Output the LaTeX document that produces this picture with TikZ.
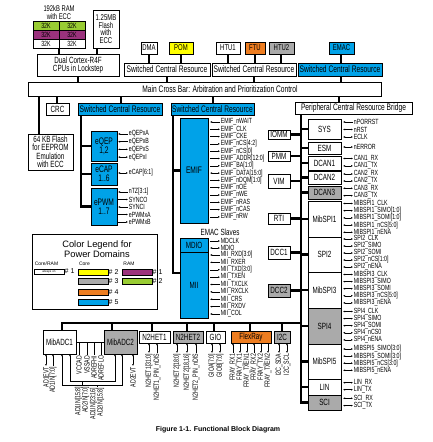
\documentclass[tikz,border=0pt]{standalone}
\usepackage{fontspec}
\setmainfont{Liberation Sans}[FakeStretch=0.7]
\newfontfamily\plainfont{Liberation Sans}
\usetikzlibrary{arrows.meta}
\definecolor{cgreen}{RGB}{153,204,51}
\definecolor{cpurple}{RGB}{155,50,125}
\definecolor{cyellow}{RGB}{255,255,0}
\definecolor{corange}{RGB}{238,125,32}
\definecolor{cgray}{RGB}{170,170,170}
\definecolor{cblue}{RGB}{0,162,232}
\newcommand\mybx[6]{\node[box,#1,anchor=north west,minimum width=#4pt,minimum height=#5pt] (#2) at (#3) {#6};}
\newcommand\sigr[5]{%
  \foreach \sdir/\stxt [count=\i] in {#5}
    \draw[sig,\sdir] ([xshift=#2pt,yshift={-(#3+(\i-1)*#4)*1pt}]#1.north east) -- ++(10,0) node[lab,anchor=west] {\stxt};}
\newcommand\sigb[3]{%
  \foreach \sx/\sdir/\stxt in {#3}
    \draw[sig,\sdir] ([xshift=\sx pt]#1.south west) -- ++(0,#2) node[lab,rotate=90,anchor=east] {\stxt};}
\begin{document}
\begin{tikzpicture}[x=1pt,y=-1pt,
  box/.style={draw,line width=0.8pt,inner sep=0pt,outer sep=0pt,align=center,font=\fontsize{9}{8.5}\selectfont},
  scr/.style={font=\fontsize{9.5}{10}\selectfont},
  bus/.style={line width=2.6pt},
  sig/.style={line width=0.5pt,>={Latex[length=2pt,width=1.8pt]}},
  lab/.style={inner sep=0.6pt,font=\fontsize{7.5}{7.2}\selectfont},
  lnum/.style={inner sep=0.5pt,font=\plainfont\fontsize{7}{7}\selectfont},
  lsm/.style={inner sep=0pt,font=\plainfont\fontsize{5}{5}\selectfont}]
\useasboundingbox (0,0) rectangle (432,442);
\fill[white] (0,0) rectangle (432,442);
\foreach \v in {39,57,59,62,78,81,97,112,121,149,152,167,173,181,187,213,214,228,250,254,255,281,282,301,339,341}
  \coordinate (c\v) at (\v,0);
\coordinate (y273) at (0,273);
\coordinate (y323) at (0,323);

% ---- top: RAM, flash, CPU
\node[font=\fontsize{8.3}{8}\selectfont,align=center] (ramlbl) at (59,12.5) {192kB RAM\\with ECC};
\mybx{fill=cgreen,font=\fontsize{7.5}{8}\selectfont}{r11}{33,21}{26}{9}{32K}
\mybx{fill=cgreen,font=\fontsize{7.5}{8}\selectfont}{r12}{59,21}{26}{9}{32K}
\mybx{fill=cpurple,font=\fontsize{7.5}{8}\selectfont}{r21}{33,30}{26}{9}{32K}
\mybx{fill=cpurple,font=\fontsize{7.5}{8}\selectfont}{r22}{59,30}{26}{9}{32K}
\mybx{fill=white,font=\fontsize{7.5}{8}\selectfont}{r31}{33,39}{26}{9}{32K}
\mybx{fill=white,font=\fontsize{7.5}{8}\selectfont}{r32}{59,39}{26}{9}{32K}
\mybx{font=\fontsize{8.5}{7.7}\selectfont}{flash}{93,10}{26}{38}{1.25MB\\Flash\\with\\ECC}
\mybx{}{cortex}{37,54}{82}{22}{Dual Cortex-R4F\\CPUs in Lockstep}

% ---- masters
\mybx{font=\fontsize{8.5}{8}\selectfont}{dma}{141,42}{16}{12}{DMA}
\mybx{fill=cyellow,font=\fontsize{8.5}{8}\selectfont}{pom}{169,42}{24}{12}{POM}
\mybx{font=\fontsize{8.5}{8}\selectfont}{htu1}{216,42}{24}{12}{HTU1}
\mybx{fill=corange,font=\fontsize{8.5}{8}\selectfont}{ftu}{245,42}{20}{12}{FTU}
\mybx{fill=cgray,font=\fontsize{8.5}{8}\selectfont}{htu2}{269,42}{25}{12}{HTU2}
\mybx{fill=cblue,font=\fontsize{8.5}{8}\selectfont}{emac}{329,42}{25}{12}{EMAC}
\mybx{scr}{scr1}{124,63}{86}{13}{Switched Central Resource}
\mybx{scr}{scr2}{212,63}{84}{13}{Switched Central Resource}
\mybx{scr,fill=cblue}{scr3}{298,63}{84}{13}{Switched Central Resource}
\mybx{}{mainbar}{28,82}{353}{14}{}
\node[font=\fontsize{9.5}{10}\selectfont] (mainlbl) at (220,89) {Main Cross Bar: Arbitration and Prioritization Control};

% ---- second level
\mybx{}{crc}{46,103}{23}{12}{CRC}
\mybx{}{flash64}{28,134}{45}{36}{64 KB Flash\\for EEPROM\\Emulation\\with ECC}
\mybx{scr,fill=cblue}{scrL}{78,103}{84}{12}{Switched Central Resource}
\mybx{scr,fill=cblue}{scrM}{171,103}{83}{12}{Switched Central Resource}
\mybx{scr}{pcrb}{295,102}{117}{12}{Peripheral Central Resource Bridge}

\mybx{fill=cblue,font=\fontsize{9.5}{9}\selectfont}{eqep}{91,131}{26}{30}{eQEP\\1,2}
\mybx{fill=cblue,font=\fontsize{9.5}{9}\selectfont}{ecap}{91,163}{26}{22}{eCAP\\1..6}
\mybx{fill=cblue,font=\fontsize{9.5}{9}\selectfont}{epwm}{91,188}{26}{37}{ePWM\\1..7}

\mybx{fill=cblue,font=\fontsize{9.5}{9}\selectfont}{emif}{180,118}{28}{105}{EMIF}
\node[font=\fontsize{9}{9}\selectfont] (emacsl) at (220,232) {EMAC Slaves};
\mybx{fill=cblue}{mdio}{180,238}{28}{14}{MDIO}
\mybx{fill=cblue}{mii}{180,252}{28}{66}{MII}

\mybx{}{iomm}{268,130}{22}{9}{IOMM}
\mybx{}{pmm}{268,151}{22}{10}{PMM}
\mybx{}{vim}{268,174}{22}{14}{VIM}
\mybx{}{rti}{268,213}{22}{11}{RTI}
\mybx{}{dcc1}{268,246}{22}{13}{DCC1}
\mybx{fill=cgray}{dcc2}{268,284}{22}{13}{DCC2}

\mybx{}{sys}{308,119}{33}{20}{SYS}
\mybx{}{esm}{308,142}{33}{12}{ESM}
\mybx{}{dcan1}{308,156}{33}{14}{DCAN1}
\mybx{}{dcan2}{308,171}{33}{13}{DCAN2}
\mybx{fill=cgray}{dcan3}{308,186}{33}{13}{DCAN3}
\mybx{}{mibspi1}{308,201}{33}{36}{MibSPI1}
\mybx{}{spi2}{308,237}{33}{35}{SPI2}
\mybx{}{mibspi3}{308,272}{33}{36}{MibSPI3}
\mybx{fill=cgray}{spi4}{308,308}{33}{36}{SPI4}
\mybx{}{mibspi5}{308,344}{33}{35}{MibSPI5}
\mybx{}{lin}{308,379}{33}{16}{LIN}
\mybx{fill=cgray}{sci}{308,395}{33}{15}{SCI}

% ---- bottom peripherals
\mybx{}{adc1}{43,330}{33}{24}{MibADC1}
\mybx{fill=cgray}{adc2}{104,330}{33}{24}{MibADC2}
\mybx{}{het1}{139,331}{31}{12}{N2HET1}
\mybx{fill=cgray}{het2}{173,331}{30}{12}{N2HET2}
\mybx{}{gio}{206,331}{19}{12}{GIO}
\mybx{fill=corange}{fray}{231,331}{40}{12}{FlexRay}
\mybx{fill=cgray}{i2c}{274,331}{16}{12}{I2C}

% ---- buses
\draw[bus] (r31.south east) -- (cortex.north -| c59);
\draw[bus] (flash.south -| c97) -- (cortex.north -| c97);
\draw[bus] (cortex.south -| c78) -- (mainbar.north -| c78);
\draw[bus] (dma.south -| c149) -- (scr1.north -| c149);
\draw[bus] (pom.south -| c181) -- (scr1.north -| c181);
\draw[bus] (htu1.south -| c228) -- (scr2.north -| c228);
\draw[bus] (ftu.south -| c255) -- (scr2.north -| c255);
\draw[bus] (htu2.south -| c281) -- (scr2.north -| c281);
\draw[bus] (emac.south -| c341) -- (scr3.north -| c341);
\draw[bus] (scr1.south -| c167) -- (mainbar.north -| c167);
\draw[bus] (scr2.south -| c254) -- (mainbar.north -| c254);
\draw[bus] (scr3.south -| c341) -- (mainbar.north -| c341);
\draw[bus] (mainbar.south -| c39) -- (flash64.north -| c39);
\draw[bus] (mainbar.south -| c57) -- (crc.north -| c57);
\draw[bus] (mainbar.south -| c121) -- (scrL.north -| c121);
\draw[bus] (mainbar.south -| c213) -- (scrM.north -| c213);
\draw[bus] (mainbar.south -| c339) -- (pcrb.north -| c339);

\draw[bus] (scrL.south -| c81) |- (epwm.west);
\draw[bus] (eqep.west -| c81) -- (eqep.west);
\draw[bus] (ecap.west -| c81) -- (ecap.west);

\draw[bus] (scrM.south -| c173) |- (mii.west |- y273);
\draw[bus] (emif.west -| c173) -- (emif.west);

\draw[bus] (pcrb.south -| c301) |- (sci.west);
\foreach \n in {sys,esm,dcan1,dcan2,dcan3,mibspi1,spi2,mibspi3,spi4,mibspi5,lin}
  \draw[bus] (\n.west -| c301) -- (\n.west);
\foreach \n in {iomm,pmm,vim,rti,dcc1,dcc2}
  \draw[bus] (\n.east) -- (\n.east -| c301);

\draw[bus] (adc1.north -| c62) |- (c301 |- y323);
\foreach \n/\c in {adc2/c112,het1/c152,het2/c187,gio/c214,fray/c250,i2c/c282}
  \draw[bus] (\c |- y323) -- (\n.north -| \c);

% ---- signals
\sigr{eqep}{1}{3}{7.7}{<-/eQEPxA,<-/eQEPxB,<->/eQEPxS,<->/eQEPxI}
\sigr{ecap}{1}{10}{0}{<->/{eCAP[6:1]}}
\sigr{epwm}{1}{4}{7.5}{<-/{nTZ[3:1]},->/SYNCO,<-/SYNCI,->/ePWMxA,->/ePWMxB}
\sigr{emif}{2}{4}{7.3}{<-/EMIF\_nWAIT,->/EMIF\_CLK,->/EMIF\_CKE,->/{EMIF\_nCS[4:2]},->/{EMIF\_nCS[0]},->/{EMIF\_ADDR[12:0]},->/{EMIF\_BA[1:0]},<->/{EMIF\_DATA[15:0]},->/{EMIF\_nDQM[1:0]},->/EMIF\_nOE,->/EMIF\_nWE,->/EMIF\_nRAS,->/EMIF\_nCAS,->/EMIF\_nRW}
\sigr{mdio}{2}{3}{7}{->/MDCLK,<->/MDIO}
\sigr{mii}{2}{3}{7.375}{<-/{MII\_RXD[3:0]},<-/MII\_RXER,->/{MII\_TXD[3:0]},->/MII\_TXEN,<-/MII\_TXCLK,<-/MII\_RXCLK,<-/MII\_CRS,<-/MII\_RXDV,<-/MII\_COL}

\sigr{sys}{2}{3}{7.5}{<-/nPORRST,<->/nRST,<->/ECLK}
\sigr{esm}{2}{5}{0}{<->/nERROR}
\sigr{dcan1}{2}{2.5}{7.4}{<->/CAN1\_RX,<->/CAN1\_TX}
\sigr{dcan2}{2}{3}{7}{<->/CAN2\_RX,<->/CAN2\_TX}
\sigr{dcan3}{2}{2.3}{7.4}{<->/CAN3\_RX,<->/CAN3\_TX}
\sigr{mibspi1}{2}{2.5}{7.2}{<->/MIBSPI1\_CLK,<->/{MIBSPI1\_SIMO[1:0]},<->/{MIBSPI1\_SOMI[1:0]},<->/{MIBSPI1\_nCS[5:0]},<->/MIBSPI1\_nENA}
\sigr{spi2}{2}{2}{7}{<->/SPI2\_CLK,<->/SPI2\_SIMO,<->/SPI2\_SOMI,<->/{SPI2\_nCS[1:0]},<->/SPI2\_nENA}
\sigr{mibspi3}{2}{2.5}{7.1}{<->/MIBSPI3\_CLK,<->/MIBSPI3\_SIMO,<->/MIBSPI3\_SOMI,<->/{MIBSPI3\_nCS[5:0]},<->/MIBSPI3\_nENA}
\sigr{spi4}{2}{3.5}{7.1}{<->/SPI4\_CLK,<->/SPI4\_SIMO,<->/SPI4\_SOMI,<->/SPI4\_nCS0,<->/SPI4\_nENA}
\sigr{mibspi5}{2}{5}{7.1}{<->/{MIBSPI5\_SIMO[3:0]},<->/{MIBSPI5\_SOMI[3:0]},<->/{MIBSPI5\_nCS[3:0]},<->/MIBSPI5\_nENA}
\sigr{lin}{2}{3.7}{7}{<->/LIN\_RX,<->/LIN\_TX}
\sigr{sci}{2}{3.3}{7.3}{<->/SCI\_RX,<->/SCI\_TX}

\sigb{adc1}{12}{3/<->/AD1EVT,10/<-/{AD1IN[7:0]}}
\sigb{adc2}{12}{29/<->/AD2EVT}
\sigb{het1}{10}{10/<->/{N2HET1[31:0]},18/<-/N2HET1\_PIN\_nDIS}
\sigb{het2}{10}{4/<->/{N2HET2[18:0]},14/<->/{N2HET2[18,16]},23/<-/N2HET2\_PIN\_nDIS}
\sigb{gio}{10}{6/<->/{GIOA[7:0]},14/<->/{GIOB[7:0]}}
\sigb{fray}{10}{2/<-/FRAY\_RX1,9/->/FRAY\_TX1,16/->/FRAY\_TXEN1,23/<-/FRAY\_RX2,30/->/FRAY\_TX2,37/->/FRAY\_TXEN2}
\sigb{i2c}{10}{5/<->/I2C\_SDA,13/<->/I2C\_SCL}

% ADC shared lines
\draw[sig] (adc1) -- (adc2);
\foreach \sx/\stxt in {3/VCCAD,11/VSSAD,18/ADREFHI,25/ADREFLO}
  \draw[sig] ([xshift=\sx pt]adc1.east) -- ++(0,13) node[lab,rotate=90,anchor=east] {\stxt};
\draw[sig,<->] ([xshift=27pt]adc1.south west) -- ++(0,27) -| ([xshift=11pt]adc2.south west);
\draw[sig,<->] ([xshift=19pt]adc1.south west) -- ++(0,31) -| ([xshift=18pt]adc2.south west);
\draw[sig] ([xshift=39pt,yshift=-27pt]adc1.south west) -- ++(0,5)
  node[lab,rotate=90,anchor=east,align=right] {AD1IN[15:8]\\AD2IN[7:0]};
\draw[sig] ([xshift=54pt,yshift=-31pt]adc1.south west) -- ++(0,2)
  node[lab,rotate=90,anchor=east,align=right] {AD1IN[23:16]\\AD2IN[15:8]};

% ---- legend
\node[draw,line width=0.8pt,inner sep=0pt,minimum width=125pt,minimum height=75pt,anchor=north west] (legend) at (32,234) {};
\node[font=\plainfont\fontsize{9.3}{10}\selectfont,align=center] (legtitle) at (97,249) {Color Legend for\\Power Domains};
\node[lsm] (lcr) at (46.5,263.5) {Core/RAM};
\node[lsm] (lcore) at (84.5,263.5) {Core};
\node[lsm] (lram) at (129,263.5) {RAM};
\mybx{fill=white,font=\plainfont\fontsize{3}{3}\selectfont}{lw}{34,269}{30}{5}{always on}
\mybx{fill=cyellow}{ly}{78,269}{30}{6}{}
\mybx{fill=cgray}{lg}{78,278.5}{30}{6}{}
\mybx{fill=corange}{lo}{78,289}{30}{6}{}
\mybx{fill=cblue}{lb}{78,299.5}{30}{6}{}
\mybx{fill=cpurple}{lp}{122,269}{30}{6}{}
\mybx{fill=cgreen}{lgr}{122,278.5}{30}{6}{}
\node[lnum,anchor=west] (n1a) at (lw.east) {\# 1};
\node[lnum,anchor=west] (n2) at (ly.east) {\# 2};
\node[lnum,anchor=west] (n3) at (lg.east) {\# 3};
\node[lnum,anchor=west] (n4) at (lo.east) {\# 4};
\node[lnum,anchor=west] (n5) at (lb.east) {\# 5};
\node[lnum,anchor=west] (n1b) at (lp.east) {\# 1};
\node[lnum,anchor=west] (n2b) at (lgr.east) {\# 2};

% ---- caption
\node[font=\plainfont\bfseries\fontsize{7}{8}\selectfont] (cap) at (218,430) {Figure 1-1. Functional Block Diagram};
\end{tikzpicture}
\end{document}
